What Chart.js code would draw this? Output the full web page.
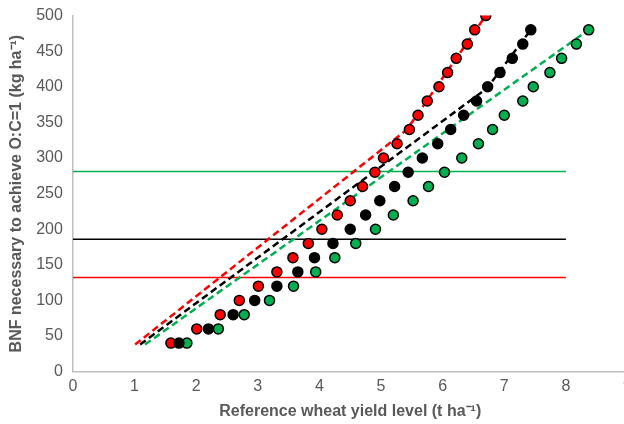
<!DOCTYPE html>
<html>
<head>
<meta charset="utf-8">
<script src="https://cdn.jsdelivr.net/npm/chart.js@4.4.0/dist/chart.umd.min.js"></script>
<style>
  html, body { margin: 0; padding: 0; overflow: hidden; background: #fff; }
  #wrap { width: 637px; height: 428px; position: relative; top: -4px; }
</style>
</head>
<body>
<div id="wrap"><canvas id="bnfChart"></canvas></div>
<script>
// BNF (kg/ha) levels of the dot rows
const bnfRed = [40, 60, 80, 100, 120, 140, 160, 180, 200, 220, 240, 260, 280, 300, 320, 340, 360, 380, 400, 420, 440, 460, 480, 500];
const bnfBlack = [40, 60, 80, 100, 120, 140, 160, 180, 200, 220, 240, 260, 280, 300, 320, 340, 360, 380, 400, 420, 440, 460, 480];
const bnfGreen = [40, 60, 80, 100, 120, 140, 160, 180, 200, 220, 240, 260, 280, 300, 320, 340, 360, 380, 400, 420, 440, 460, 480];

// reference wheat yield (t/ha) for each dot
const yieldRed = [1.59, 2.01, 2.39, 2.70, 3.01, 3.31, 3.57, 3.82, 4.04, 4.29, 4.50, 4.70, 4.90, 5.04, 5.26, 5.46, 5.60, 5.75, 5.94, 6.08, 6.22, 6.40, 6.52, 6.70];
const yieldBlack = [1.72, 2.20, 2.60, 2.95, 3.31, 3.65, 3.92, 4.22, 4.50, 4.75, 4.98, 5.22, 5.44, 5.67, 5.92, 6.13, 6.34, 6.55, 6.73, 6.93, 7.13, 7.30, 7.43];
const yieldGreen = [1.85, 2.36, 2.78, 3.19, 3.58, 3.94, 4.25, 4.59, 4.91, 5.20, 5.52, 5.77, 6.03, 6.31, 6.58, 6.81, 7.00, 7.30, 7.47, 7.74, 7.93, 8.17, 8.37];

// dashed curves
const dashRedX = [1.01, 5.42, 6.70];
const dashRedY = [38, 340, 500];
const dashBlackX = [1.09, 6.72, 7.43];
const dashBlackY = [38, 398, 480];
const dashGreenX = [1.17, 8.37];
const dashGreenY = [38, 480];

// horizontal threshold lines
const levelX = [0, 8];
const levelGreen = 281;
const levelBlack = 186;
const levelRed = 132;

// axes
const xTicks = [0, 1, 2, 3, 4, 5, 6, 7, 8, 9];
const yTicks = [0, 50, 100, 150, 200, 250, 300, 350, 400, 450, 500];

const RED = '#FF0000';
const BLACK = '#000000';
const GREEN = '#00B050';

function pts(xs, ys) {
    return xs.map((x, i) => ({ x: x, y: ys[i] }));
}

function dots(label, xs, ys, color, order) {
    return {
        label: label,
        data: pts(xs, ys),
        showLine: false,
        pointRadius: 5,
        pointBackgroundColor: color,
        pointBorderColor: '#000000',
        pointBorderWidth: 1.5,
        order: order
    };
}

function dashed(label, xs, ys, color) {
    return {
        label: label,
        data: pts(xs, ys),
        showLine: true,
        borderColor: color,
        borderWidth: 2.5,
        borderDash: [7, 4],
        pointRadius: 0,
        order: 10
    };
}

function level(label, y, color) {
    return {
        label: label,
        data: pts(levelX, levelX.map(() => y)),
        showLine: true,
        borderColor: color,
        borderWidth: 1.5,
        pointRadius: 0,
        order: 20
    };
}

const ctx = document.getElementById('bnfChart').getContext('2d');
new Chart(ctx, {
    type: 'scatter',
    data: {
        datasets: [
            dots('Black', yieldBlack, bnfBlack, BLACK, 1),
            dots('Green', yieldGreen, bnfGreen, GREEN, 2),
            dots('Red', yieldRed, bnfRed, RED, 3),
            dashed('Red fit', dashRedX, dashRedY, RED),
            dashed('Black fit', dashBlackX, dashBlackY, BLACK),
            dashed('Green fit', dashGreenX, dashGreenY, GREEN),
            level('Green level', levelGreen, GREEN),
            level('Black level', levelBlack, BLACK),
            level('Red level', levelRed, RED)
        ]
    },
    options: {
        responsive: true,
        maintainAspectRatio: false,
        animation: false,
        layout: {
            padding: { left: 0, right: 0, top: 0, bottom: 0 }
        },
        plugins: {
            legend: { display: false },
            tooltip: { enabled: false }
        },
        scales: {
            x: {
                type: 'linear',
                min: xTicks[0],
                max: xTicks[xTicks.length - 1],
                afterBuildTicks: (axis) => { axis.ticks = xTicks.map(v => ({ value: v })); },
                grid: { display: false, drawTicks: false },
                border: { display: true, color: '#BFBFBF', width: 1.5 },
                ticks: {
                    color: '#595959',
                    font: { family: 'Liberation Sans', size: 16 },
                    padding: 5,
                    maxRotation: 0
                },
                title: {
                    display: true,
                    text: 'Reference wheat yield level (t ha\u207B\u00B9)',
                    color: '#595959',
                    font: { family: 'Liberation Sans', size: 16, weight: 'bold' },
                    padding: { top: 1, bottom: 3 }
                }
            },
            y: {
                type: 'linear',
                min: yTicks[0],
                max: yTicks[yTicks.length - 1],
                afterBuildTicks: (axis) => { axis.ticks = yTicks.map(v => ({ value: v })); },
                grid: { display: false, drawTicks: false },
                border: { display: true, color: '#BFBFBF', width: 1.5 },
                ticks: {
                    color: '#595959',
                    font: { family: 'Liberation Sans', size: 16 },
                    padding: 10
                },
                title: {
                    display: true,
                    text: 'BNF necessary to achieve O:C=1 (kg ha\u207B\u00B9)',
                    color: '#595959',
                    font: { family: 'Liberation Sans', size: 16, weight: 'bold' },
                    padding: { top: 7, bottom: 0 }
                }
            }
        }
    }
});
</script>
</body>
</html>
